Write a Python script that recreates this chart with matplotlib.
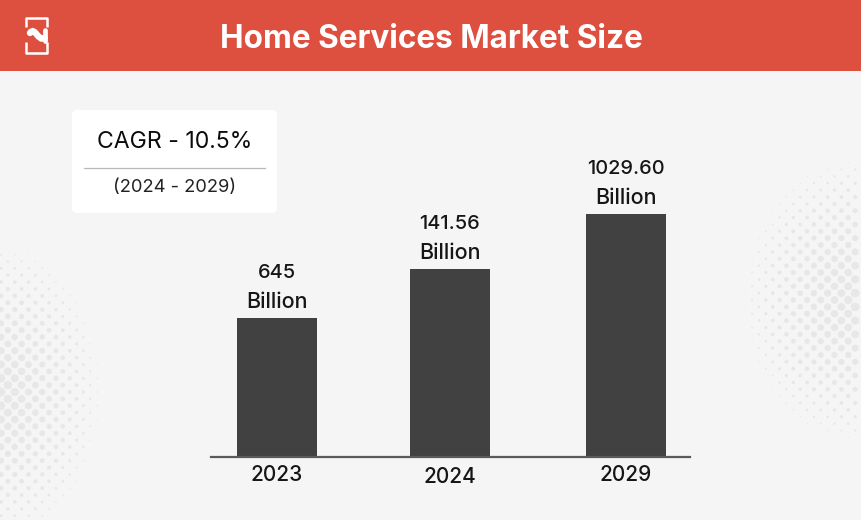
import numpy as np
import matplotlib
matplotlib.use("Agg")
import matplotlib.pyplot as plt
from matplotlib.patches import FancyBboxPatch, Rectangle
from matplotlib.path import Path
from matplotlib.patches import PathPatch

plt.rcParams['font.family'] = ['Inter', 'DejaVu Sans']

title = "Home Services Market Size"
years = ["2023", "2024", "2029"]
value_labels = ["645", "141.56", "1029.60"]
bar_heights = [139, 188, 243]      # drawn heights
bar_centers = [277, 449.8, 626]
year_label_drop = [18, 20, 18]

BG = "#f5f5f5"
RED = "#dd4f3e"
BAR = "#414141"
W, H = 861, 520

fig = plt.figure(figsize=(W / 100, H / 100), dpi=100, facecolor=BG)

# pixel-coordinate layer for decoration
bg = fig.add_axes([0, 0, 1, 1])
bg.set_xlim(0, W)
bg.set_ylim(H, 0)
bg.axis("off")


def halftone(cx, cy, rx, ry, phase):
    step = 6.87
    xs, ys, ss = [], [], []
    for i in range(-40, 41):
        for j in range(-40, 41):
            if (i + j) % 2:
                continue
            x = cx + phase + i * step
            y = cy + j * step
            d = np.hypot((x - cx) / rx, (y - cy) / ry)
            if d < 1 and 0 <= x <= W:
                xs.append(x)
                ys.append(y)
                ss.append((8.2 * (1 - d) ** 0.7 + 0.8) * 0.72)
    bg.scatter(xs, ys, s=np.array(ss) ** 2, c="#e7e7e7", linewidths=0,
               marker="o", zorder=1)


halftone(862, 300, 118, 142, 0)
halftone(-2, 392, 102, 145, 3)

# header
bg.add_patch(Rectangle((0, 0), W, 71, fc=RED, ec="none", zorder=2))
bg.text(431, 40, title, color="white", fontsize=22.7, fontweight="bold",
        ha="center", va="center", zorder=3)

# logo
for verts in (
    [(26, 27), (26, 18), (46.5, 18), (46.5, 27)],
    [(26, 42), (26, 53), (46.5, 53), (46.5, 42)],
):
    bg.plot(*zip(*verts), color="white", lw=1.8, solid_capstyle="butt",
            solid_joinstyle="round", zorder=3)
swoosh = Path([(30, 33), (35, 26), (38, 42), (44.5, 38)],
              [Path.MOVETO, Path.CURVE4, Path.CURVE4, Path.CURVE4])
bg.add_patch(PathPatch(swoosh, fc="none", ec="white", lw=4.6, capstyle="round", zorder=3))
bg.plot([45, 45], [30, 41], color="white", lw=3.4, solid_capstyle="round", zorder=3)

# CAGR card
bg.add_patch(FancyBboxPatch((75, 113), 199, 97, boxstyle="round,pad=3,rounding_size=5",
                            fc="white", ec="none", zorder=2))
bg.text(174.5, 142.5, "CAGR - 10.5%", color="#0c0c0c", fontsize=16.6,
        ha="center", va="center", zorder=3)
bg.plot([84, 265], [167.5, 167.5], color="#b8b8b8", lw=0.9, zorder=3)
bg.text(174.5, 188, "(2024 - 2029)", color="#222222", fontsize=13.2,
        ha="center", va="center", zorder=3)

# chart axes: x in pixels, y in drawn units, baseline at y=457
ax = fig.add_axes([211 / W, (H - 457) / H, (690 - 211) / W, 357 / H])
ax.patch.set_alpha(0)
ax.set_xlim(211, 690)
ax.set_ylim(0, 357)
for s in ("top", "left", "right"):
    ax.spines[s].set_visible(False)
ax.spines["bottom"].set_color("#5a5a5a")
ax.spines["bottom"].set_linewidth(1.6)
ax.set_yticks([])
ax.set_xticks([])
ax.bar(bar_centers, bar_heights, width=80, color=BAR, zorder=2)

for x, h, v, yr, drop in zip(bar_centers, bar_heights, value_labels, years, year_label_drop):
    ax.annotate("Billion", (x, h), xytext=(0, 16), textcoords="offset pixels",
                ha="center", va="center", fontsize=15.5, color="#161616", fontweight="medium")
    ax.annotate(v, (x, h), xytext=(0, 45), textcoords="offset pixels",
                ha="center", va="center", fontsize=14.4, color="#161616", fontweight="medium")
    ax.annotate(yr, (x, 0), xytext=(0, -drop), textcoords="offset pixels",
                ha="center", va="center", fontsize=15, color="#161616", fontweight="medium",
                annotation_clip=False)

fig.savefig("out.png", dpi=100, facecolor=BG)
